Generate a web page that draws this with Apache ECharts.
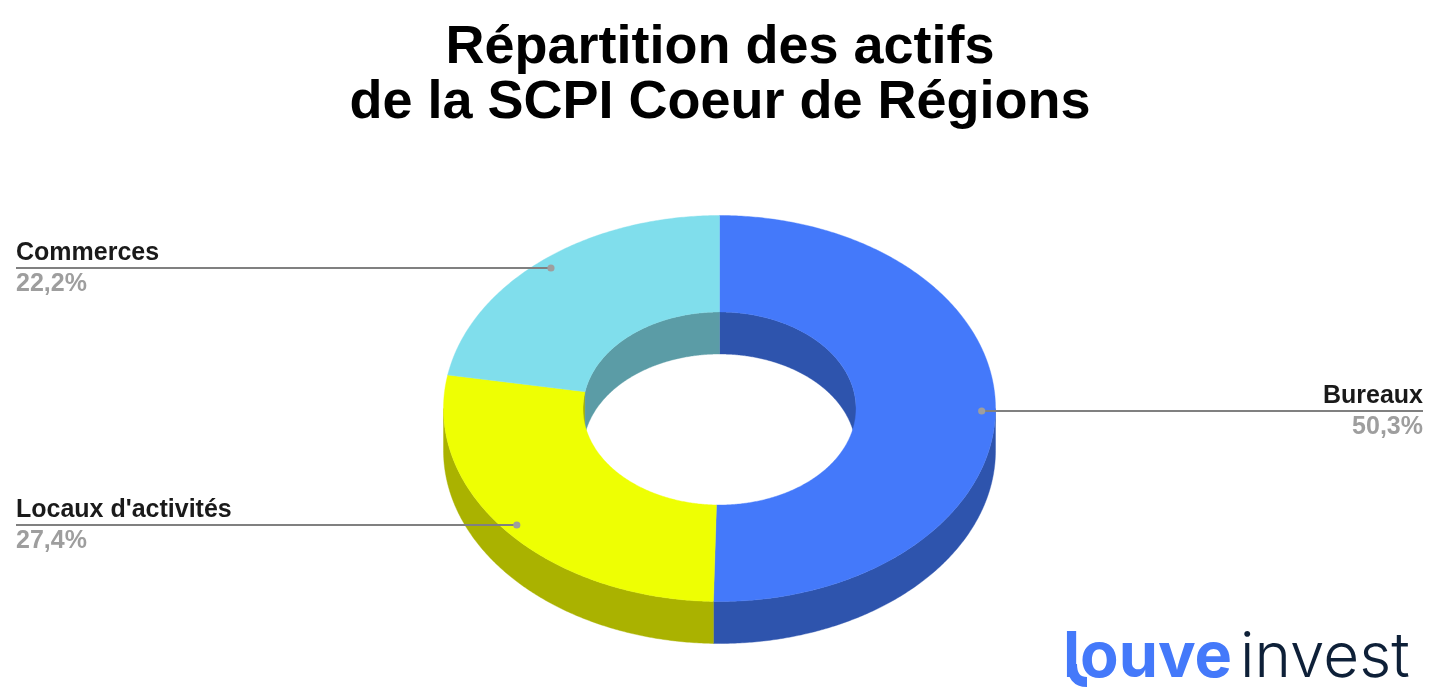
<!DOCTYPE html>
<html><head><meta charset="utf-8">
<script src="https://cdn.jsdelivr.net/npm/echarts@6/dist/echarts.min.js"></script>
<style>html,body{margin:0;padding:0;background:#fff}#c{width:1440px;height:698px}</style>
</head><body><div id="c"></div>
<script>
const titleLines = ["Répartition des actifs", "de la SCPI Coeur de Régions"];
const categories = ["Bureaux", "Locaux d'activités", "Commerces"];
const values = [50.3, 27.4, 22.2];
const valueLabels = ["50,3%", "27,4%", "22,2%"];
const topColors = ["#4479FA", "#EEFF03", "#80DEEC"];
const sideColors = ["#2E54AD", "#AAB200", "#5B9CA6"];

const total = values.reduce((a, b) => a + b, 0);
const CX = 719.5, CY = 408.5, RX = 276, RY = 193, IRX = 136.5, IRY = 96.5, DEPTH = 42;
const FONT = '"Liberation Sans", Arial, sans-serif';
const STEP = 0.5;

function pt(rx, ry, deg, dy) {
  const t = deg * Math.PI / 180;
  return [CX + rx * Math.sin(t), CY - ry * Math.cos(t) + (dy || 0)];
}
function arc(rx, ry, a, b, dy) {
  const out = [];
  const n = Math.max(1, Math.ceil(Math.abs(b - a) / STEP));
  for (let i = 0; i <= n; i++) out.push(pt(rx, ry, a + (b - a) * i / n, dy));
  return out;
}
function band(rx, ry, a, b, color) {
  if (b <= a) return null;
  return {
    type: 'polygon', z2: 1, silent: true,
    shape: { points: arc(rx, ry, a, b, 0).concat(arc(rx, ry, b, a, DEPTH)) },
    style: { fill: color, stroke: color, lineWidth: 0.4 }
  };
}
function renderSlice(params, api) {
  const i = params.dataIndex;
  const before = values.slice(0, i).reduce((a, b) => a + b, 0);
  const a = before / total * 360;
  const b = (before + api.value(0)) / total * 360;
  const mid = (a + b) / 2;
  const children = [];
  // outer wall: front half only; inner wall: back half only
  [band(RX, RY, Math.max(a, 90), Math.min(b, 270), sideColors[i]),
   band(IRX, IRY, a, Math.min(b, 90), sideColors[i]),
   band(IRX, IRY, Math.max(a, 270), b, sideColors[i])].forEach(e => e && children.push(e));
  // top face
  children.push({
    type: 'polygon', z2: 2, silent: true,
    shape: { points: arc(RX, RY, a, b).concat(arc(IRX, IRY, b, a)) },
    style: { fill: topColors[i], stroke: topColors[i], lineWidth: 0.4 }
  });
  // leader + labels
  const d = pt(RX * 0.95, RY * 0.95, mid);
  const y = Math.round(d[1]);
  const right = mid < 180;
  const edge = right ? 1423 : 16;
  children.push({
    type: 'line', z2: 3, silent: true,
    shape: { x1: d[0], y1: y, x2: edge, y2: y },
    style: { stroke: '#808080', lineWidth: 2 }
  });
  children.push({
    type: 'circle', z2: 4, silent: true,
    shape: { cx: d[0], cy: y, r: 3.6 },
    style: { fill: '#9E9E9E' }
  });
  const align = right ? 'right' : 'left';
  children.push({
    type: 'text', z2: 5, silent: true,
    style: { x: edge, y: y - 15, text: categories[i], fill: '#1A1A1A',
      font: 'bold 25px ' + FONT, textAlign: align, textVerticalAlign: 'middle' }
  });
  children.push({
    type: 'text', z2: 5, silent: true,
    style: { x: edge, y: y + 16.5, text: valueLabels[i], fill: '#9E9E9E',
      font: 'bold 25px ' + FONT, textAlign: align, textVerticalAlign: 'middle' }
  });
  return { type: 'group', children };
}

const chart = echarts.init(document.getElementById('c'), null, { renderer: 'canvas' });
chart.setOption({
  animation: false,
  backgroundColor: '#fff',
  title: {
    text: titleLines.join('\n'),
    left: 'center', top: 16,
    textStyle: { fontFamily: FONT, fontWeight: 'bold', fontSize: 54, lineHeight: 55, color: '#000' }
  },
  tooltip: { show: false },
  series: [{
    type: 'custom',
    coordinateSystem: 'none',
    renderItem: renderSlice,
    data: categories.map((n, i) => ({ name: n, value: values[i] }))
  }],
  graphic: [
    { type: 'text', silent: true, style: { x: 1063, y: 658, text: 'louve', fill: '#4479FA',
      font: '700 63px Inter, "Noto Sans", sans-serif', textVerticalAlign: 'middle' } },
    { type: 'bezierCurve', silent: true,
      shape: { x1: 1072, y1: 664, cpx1: 1072, cpy1: 682, x2: 1087, y2: 682 },
      style: { fill: 'none', stroke: '#4479FA', lineWidth: 10 } },
    { type: 'text', silent: true, style: { x: 1240, y: 658, text: 'invest', fill: '#0E2038',
      font: '300 62px Inter, "Noto Sans", sans-serif', textVerticalAlign: 'middle' } }
  ]
});
</script></body></html>
